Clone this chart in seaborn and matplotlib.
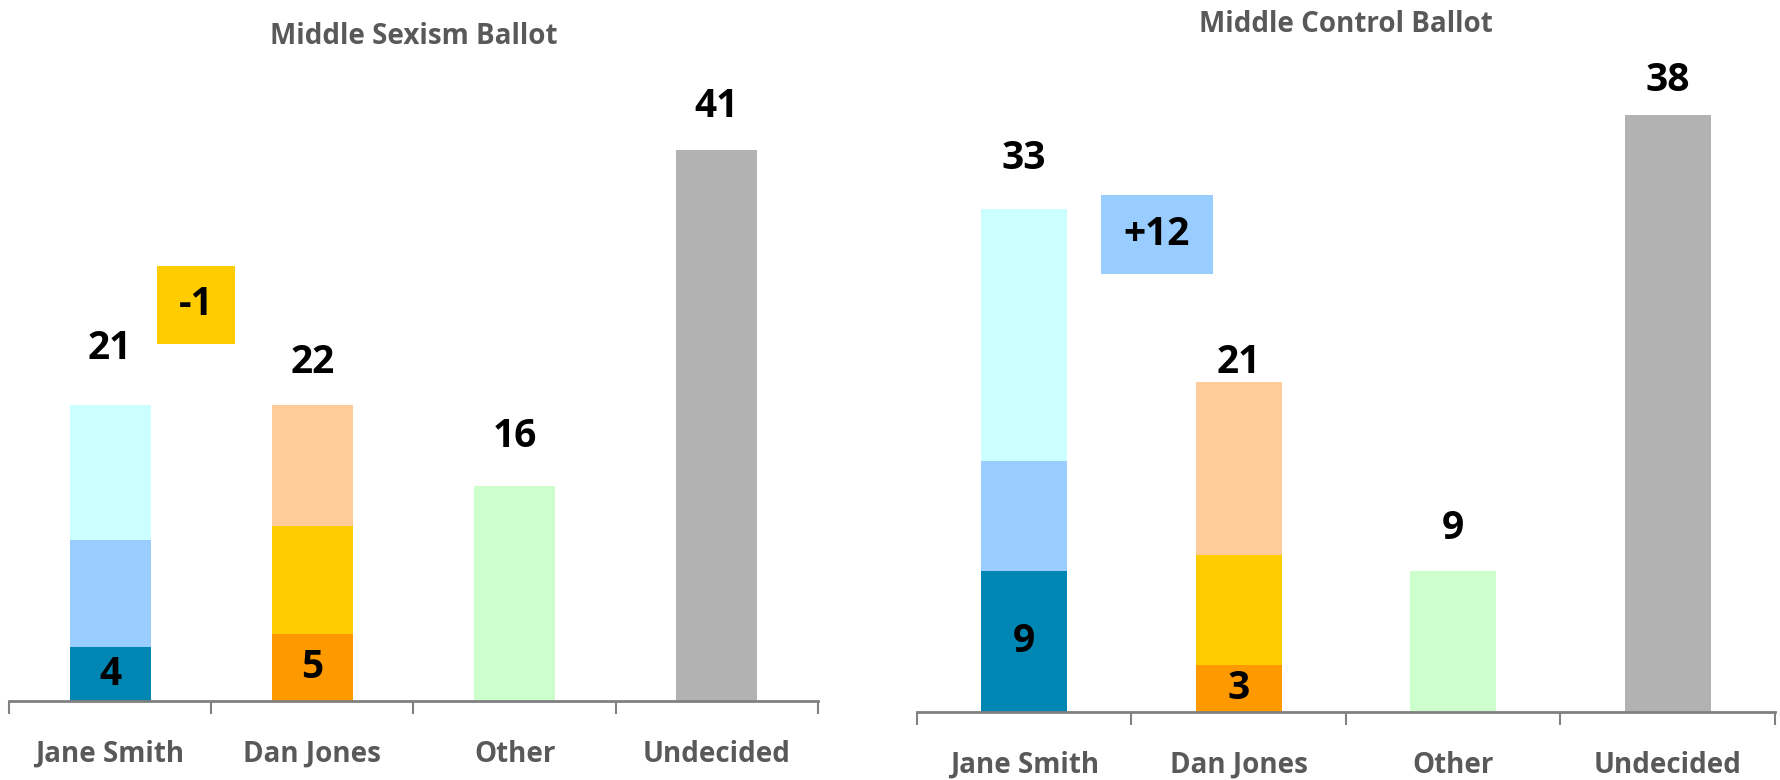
import matplotlib
matplotlib.use("Agg")
import matplotlib.pyplot as plt
import seaborn as sns
import pandas as pd
import numpy as np
from matplotlib.patches import Rectangle

# --- data ---
candidates = ["Jane Smith", "Dan Jones", "Other", "Undecided"]

# stacked segments (bottom, middle, top); Other / Undecided are single bars
sexism_bottom = [4, 5, 16, 41]
sexism_middle = [8, 8, 0, 0]
sexism_top = [10, 9, 0, 0]
sexism_totals = ["21", "22", "16", "41"]
sexism_inner = ["4", "5", "", ""]
sexism_diff = "-1"

control_bottom = [9, 3, 9, 38]
control_middle = [7, 7, 0, 0]
control_top = [16, 11, 0, 0]
control_totals = ["33", "21", "9", "38"]
control_inner = ["9", "3", "", ""]
control_diff = "+12"

# --- styling ---
FONT = ["Open Sans", "DejaVu Sans"]
GREY_TXT = "#595959"
AXIS_GREY = "#808080"
bottom_colors = ["#0086B3", "#FF9900", "#CCFFCC", "#B2B2B2"]
middle_colors = ["#99CCFF", "#FFCC00", "#CCFFCC", "#B2B2B2"]
top_colors = ["#CCFFFF", "#FFCC99", "#CCFFCC", "#B2B2B2"]

sns.set_theme(style="white")
plt.rcParams["font.family"] = FONT

fig = plt.figure(figsize=(17.81, 7.80), dpi=100)
W, H = 1781, 780


def px_axes(left, right, top, bottom):
    return fig.add_axes([left / W, 1 - bottom / H, (right - left) / W, (bottom - top) / H])


def draw_ballot(ax, bottoms, middles, tops, totals, inner, diff, diff_xy, diff_size,
                diff_color, title, title_y, label_dy, ymax):
    b = np.array(bottoms, dtype=float)
    m = np.array(middles, dtype=float)
    t = np.array(tops, dtype=float)
    layers = [(b + m + t, top_colors), (b + m, middle_colors), (b, bottom_colors)]
    for heights, colors in layers:
        df = pd.DataFrame({"cand": candidates, "val": heights})
        sns.barplot(data=df, x="cand", y="val", hue="cand", order=candidates,
                    hue_order=candidates, palette=dict(zip(candidates, colors)),
                    width=0.4, legend=False, saturation=1, ax=ax, linewidth=0)
    total = b + m + t
    for i, lab in enumerate(totals):
        ax.annotate(lab, (i, total[i]), xytext=(0, label_dy[i]), textcoords="offset pixels",
                    ha="center", va="center", fontsize=28, fontweight="bold", color="black")
        if inner[i]:
            ax.text(i, b[i] / 2, inner[i], ha="center", va="center",
                    fontsize=28, fontweight="bold", color="black")

    # change callout box
    bw, bh = diff_size
    ax.add_patch(Rectangle((diff_xy[0] - bw / 2, diff_xy[1] - bh / 2), bw, bh,
                           facecolor=diff_color, edgecolor="none", zorder=3))
    ax.text(diff_xy[0], diff_xy[1], diff, ha="center", va="center", fontsize=28,
            fontweight="bold", color="black", zorder=4)

    ax.set_xlim(-0.5, 3.5)
    ax.set_ylim(0, ymax)
    ax.set_xlabel("")
    ax.set_ylabel("")
    ax.set_yticks([])
    for s in ["left", "right", "top"]:
        ax.spines[s].set_visible(False)
    ax.spines["bottom"].set_color(AXIS_GREY)
    ax.spines["bottom"].set_linewidth(2)
    ax.set_xticks(range(4))
    ax.set_xticklabels(candidates, fontsize=20, fontweight="bold", color=GREY_TXT)
    ax.set_xticks(np.arange(-0.5, 4, 1), minor=True)
    ax.tick_params(axis="x", which="major", length=0, pad=28)
    ax.tick_params(axis="x", which="minor", length=9, width=1.5, color=AXIS_GREY,
                   direction="out", bottom=True)
    ax.text(0.5, title_y, title, transform=ax.transAxes, ha="center", va="center",
            fontsize=20, fontweight="bold", color=GREY_TXT)


ax1 = px_axes(9, 818, 60, 701)
draw_ballot(ax1, sexism_bottom, sexism_middle, sexism_top, sexism_totals, sexism_inner,
            sexism_diff, (0.424, 29.5), (0.386, 5.8), "#FFCC00",
            "Middle Sexism Ballot", 1.037, [57, 43, 49, 44], 47.7)

ax2 = px_axes(917, 1775, 60, 712)
draw_ballot(ax2, control_bottom, control_middle, control_top, control_totals, control_inner,
            control_diff, (0.619, 30.4), (0.52, 5.0), "#99CCFF",
            "Middle Control Ballot", 1.054, [51, 20, 42, 34], 41.5)

fig.savefig("out.png", dpi=100, facecolor="white")
